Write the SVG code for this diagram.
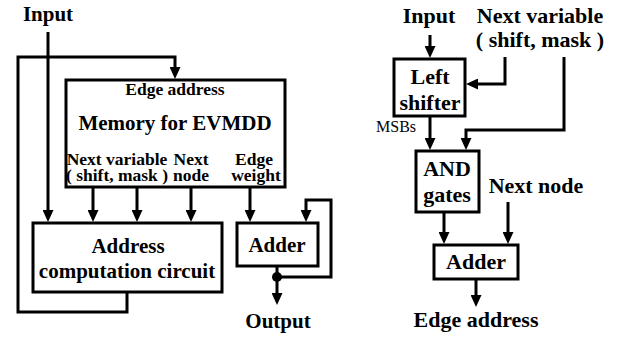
<svg xmlns="http://www.w3.org/2000/svg" width="641" height="338" viewBox="0 0 641 338" font-family="'Liberation Serif', 'Times New Roman', serif">
<style>
.box{fill:#fff;stroke:#000;stroke-width:3}
.w{fill:none;stroke:#000;stroke-width:3;stroke-linejoin:miter;stroke-linecap:butt;marker-end:url(#ah)}
text{font-weight:bold;fill:#000}
.c{text-anchor:middle}
.s17{font-size:17.5px}
.s21{font-size:21px}
.s22{font-size:22px}
.reg{font-weight:normal;font-size:16px}
</style>
<defs>
<marker id="ah" markerUnits="userSpaceOnUse" markerWidth="12" markerHeight="11" refX="6" refY="5.5" orient="auto">
<path d="M0,0 L12,5.5 L0,11 z" fill="#000"/>
</marker>
</defs>
<rect width="641" height="338" fill="#fff"/>
<g id="connectors">
<path class="w" d="M48,32 V216"/>
<path class="w" d="M127,292 V312 H18 V57 H175 V73"/>
<path class="w" d="M93,187 V216"/>
<path class="w" d="M137,187 V216"/>
<path class="w" d="M191,187 V216"/>
<path class="w" d="M250,187 V216"/>
<path class="w" d="M277,277 H331 V200 H306 V216"/>
<path class="w" d="M277,265 V299"/>
<circle cx="277" cy="277" r="5" fill="#000"/>
<path class="w" d="M430,35 V52"/>
<path class="w" d="M505,57 V84 H472"/>
<path class="w" d="M564,57 V130 H466 V144"/>
<path class="w" d="M430,117 V144"/>
<path class="w" d="M444,213 V238"/>
<path class="w" d="M508,202 V238"/>
<path class="w" d="M476,280 V301"/>
</g>
<g id="input-left"><text class="c s21" x="48" y="21">Input</text></g>
<g id="memory">
<rect class="box" x="66" y="80" width="219" height="107"/>
<text class="c s17" x="175" y="95">Edge address</text>
<text class="c s21" x="175" y="130">Memory for EVMDD</text>
<text class="c s17" x="117" y="165">Next variable</text>
<text class="c s17" x="117" y="181">( shift, mask )</text>
<text class="c s17" x="191" y="165">Next</text>
<text class="c s17" x="191" y="181">node</text>
<text class="c s17" x="254" y="165">Edge</text>
<text class="c s17" x="256" y="181">weight</text>
</g>
<g id="address-circuit">
<rect class="box" x="33" y="223" width="189" height="69"/>
<text class="c s21" x="128" y="253">Address</text>
<text class="c s21" x="127" y="278">computation circuit</text>
</g>
<g id="adder-left">
<rect class="box" x="237" y="223" width="81" height="43"/>
<text class="c s21" x="277" y="252">Adder</text>
</g>
<g id="output"><text class="c s21" x="278" y="328">Output</text></g>
<g id="input-right"><text class="c s22" x="429" y="23">Input</text></g>
<g id="next-variable">
<text class="c s22" x="540" y="23">Next variable</text>
<text class="c s22" x="540" y="47">( shift, mask )</text>
</g>
<g id="left-shifter">
<rect class="box" x="394" y="59" width="71" height="57"/>
<text class="c s22" x="430" y="84">Left</text>
<text class="c s22" x="430" y="110">shifter</text>
</g>
<g id="msbs"><text class="reg" x="376" y="132">MSBs</text></g>
<g id="and-gates">
<rect class="box" x="416" y="151" width="63" height="61"/>
<text class="c s22" x="447" y="176">AND</text>
<text class="c s22" x="447" y="202">gates</text>
</g>
<g id="next-node"><text class="c s22" x="536" y="193">Next node</text></g>
<g id="adder-right">
<rect class="box" x="434" y="245" width="84" height="34"/>
<text class="c s22" x="476" y="269">Adder</text>
</g>
<g id="edge-address"><text class="c s22" x="476" y="327">Edge address</text></g>
</svg>
